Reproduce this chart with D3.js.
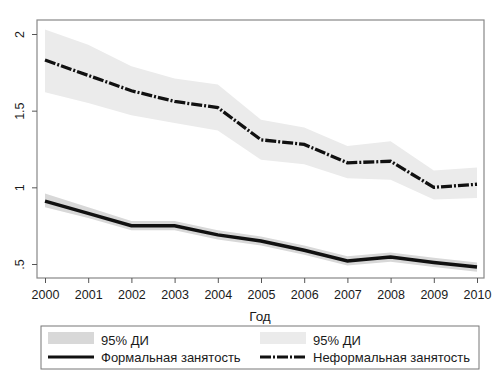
<!DOCTYPE html>
<html>
<head>
<meta charset="utf-8">
<script src="https://cdn.jsdelivr.net/npm/d3@7"></script>
<style>
  body { margin: 0; background: #fff; }
  svg text { font-family: "Liberation Sans", Arial, sans-serif; fill: #1a1a1a; }
</style>
</head>
<body>
<div id="chart"></div>
<script>
// data
const years = [2000, 2001, 2002, 2003, 2004, 2005, 2006, 2007, 2008, 2009, 2010]
const formal = [0.91, 0.83, 0.75, 0.75, 0.69, 0.65, 0.59, 0.52, 0.545, 0.51, 0.48]
const formalLo = [0.87, 0.80, 0.72, 0.72, 0.66, 0.62, 0.56, 0.49, 0.515, 0.48, 0.45]
const formalHi = [0.96, 0.87, 0.78, 0.78, 0.72, 0.68, 0.62, 0.55, 0.575, 0.54, 0.51]
const informal = [1.83, 1.73, 1.63, 1.56, 1.52, 1.31, 1.28, 1.16, 1.17, 1.00, 1.02]
const informalLo = [1.62, 1.55, 1.47, 1.42, 1.37, 1.18, 1.15, 1.06, 1.05, 0.92, 0.93]
const informalHi = [2.03, 1.93, 1.79, 1.71, 1.67, 1.44, 1.39, 1.27, 1.30, 1.11, 1.13]
const yTicks = [0.5, 1, 1.5, 2]
const yTickLabels = ['.5', '1', '1.5', '2']
const legendItems = ['95% ДИ', 'Формальная занятость', '95% ДИ', 'Неформальная занятость']

//====[ layout ]====//
const svgw = 500, svgh = 389
const frame = {left: 37, top: 20, right: 484, bottom: 278}
const dashDot = '11,2,2,2'

let svg = d3.select('#chart').append('svg')
    .attr('width', svgw)
    .attr('height', svgh)

let x = d3.scaleLinear().domain([2000, 2010]).range([45, 477])
let y = d3.scaleLinear().domain([0.5, 2]).range([264, 34])

//====[ bands ]====//
let area = (lo, hi) => d3.area()
    .x((d, i) => x(years[i]))
    .y0((d, i) => y(lo[i]))
    .y1((d, i) => y(hi[i]))(years)

svg.append('path')
    .attr('d', area(informalLo, informalHi))
    .attr('fill', '#ebebeb')

svg.append('path')
    .attr('d', area(formalLo, formalHi))
    .attr('fill', '#d8d8d8')

//====[ lines ]====//
let line = (vals) => d3.line()
    .x((d, i) => x(years[i]))
    .y((d, i) => y(vals[i]))(years)

svg.append('path')
    .attr('d', line(formal))
    .attr('fill', 'none')
    .attr('stroke', '#111')
    .attr('stroke-width', 3.5)

svg.append('path')
    .attr('d', line(informal))
    .attr('fill', 'none')
    .attr('stroke', '#111')
    .attr('stroke-width', 3.3)
    .attr('stroke-dasharray', dashDot)

//====[ frame + axes ]====//
svg.append('rect')
    .attr('x', frame.left)
    .attr('y', frame.top)
    .attr('width', frame.right - frame.left)
    .attr('height', frame.bottom - frame.top)
    .attr('fill', 'none')
    .attr('stroke', '#888')
    .attr('stroke-width', 1.2)

let gx = svg.append('g')
    .attr('transform', 'translate(0,' + frame.bottom + ')')
    .call(d3.axisBottom(x).tickValues(years).tickFormat(d3.format('d')).tickSize(5).tickSizeOuter(0))
gx.select('.domain').remove()
gx.selectAll('line').attr('stroke', '#555')
gx.selectAll('text').attr('dy', '1.05em').style('font-size', '12.5px')

let gy = svg.append('g')
    .attr('transform', 'translate(' + frame.left + ',0)')
    .call(d3.axisLeft(y).tickValues(yTicks).tickFormat((d, i) => yTickLabels[i]).tickSize(5).tickSizeOuter(0))
gy.select('.domain').remove()
gy.selectAll('line').attr('stroke', '#555')
gy.selectAll('text')
    .attr('x', 0).attr('dy', 0)
    .attr('text-anchor', 'middle')
    .attr('transform', 'translate(-13,0) rotate(-90)')
    .style('font-size', '12.5px')

svg.append('text')
    .attr('x', 260).attr('y', 321)
    .attr('text-anchor', 'middle')
    .style('font-size', '13.5px')
    .text('Год')

//====[ legend ]====//
let lg = svg.append('g')
lg.append('rect')
    .attr('x', 41).attr('y', 326)
    .attr('width', 438).attr('height', 43)
    .attr('fill', '#fff')
    .attr('stroke', '#777')

let cols = [48, 260]
let bandFills = ['#d8d8d8', '#ebebeb']
cols.forEach((cx, c) => {
    lg.append('rect')
        .attr('x', cx).attr('y', 332)
        .attr('width', 46).attr('height', 12)
        .attr('fill', bandFills[c])
    lg.append('line')
        .attr('x1', cx).attr('x2', cx + 46)
        .attr('y1', 357).attr('y2', 357)
        .attr('stroke', '#111')
        .attr('stroke-width', 2.8)
        .attr('stroke-dasharray', c == 1 ? dashDot : null)
    lg.append('text')
        .attr('x', cx + 53).attr('y', 345)
        .style('font-size', '13px')
        .text(legendItems[c * 2])
    lg.append('text')
        .attr('x', cx + 53).attr('y', 362)
        .style('font-size', '13px')
        .text(legendItems[c * 2 + 1])
})
</script>
</body>
</html>
